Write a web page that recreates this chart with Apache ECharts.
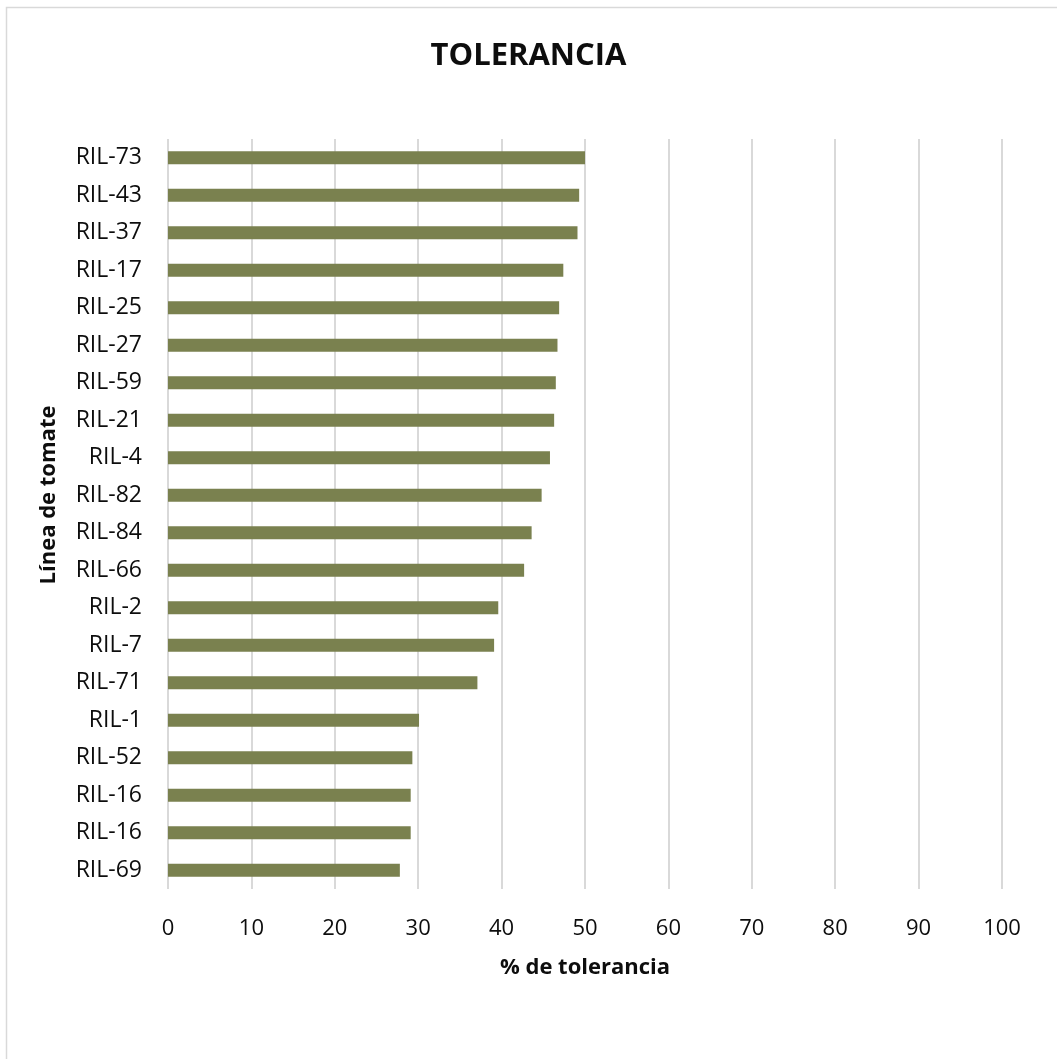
<!DOCTYPE html>
<html>
<head>
<meta charset="utf-8">
<title>TOLERANCIA</title>
<script src="https://cdn.jsdelivr.net/npm/echarts@6/dist/echarts.min.js"></script>
<style>
  html, body { margin: 0; padding: 0; background: #fff; }
  #chart { width: 1057px; height: 1059px; }
</style>
</head>
<body>
<div id="chart"></div>
<script>
// lineas de tomate, de arriba a abajo
var lineas = ['RIL-73', 'RIL-43', 'RIL-37', 'RIL-17', 'RIL-25', 'RIL-27', 'RIL-59', 'RIL-21', 'RIL-4', 'RIL-82',
  'RIL-84', 'RIL-66', 'RIL-2', 'RIL-7', 'RIL-71', 'RIL-1', 'RIL-52', 'RIL-16', 'RIL-16', 'RIL-69'];
// % de tolerancia
var tolerancia = [50.0, 49.3, 49.1, 47.4, 46.9, 46.7, 46.5, 46.3, 45.8, 44.8,
  43.6, 42.7, 39.6, 39.1, 37.1, 30.1, 29.3, 29.1, 29.1, 27.8];

var font = '"Open Sans", sans-serif';
var textColor = '#0d0d0d';
var gridColor = '#d9d9d9';
var barColor = '#7a814f';

var myChart = echarts.init(document.getElementById('chart'));
myChart.setOption({
  backgroundColor: '#fff',
  animation: false,
  title: {
    text: 'TOLERANCIA',
    left: 'center',
    top: 36,
    textStyle: { fontFamily: font, fontSize: 31, fontWeight: 'bold', color: textColor }
  },
  graphic: [{
    // marco gris del area del grafico (solo se ven los bordes superior e izquierdo)
    type: 'polyline',
    shape: { points: [[6.5, 1059], [6.5, 7.5], [1057, 7.5]] },
    style: { stroke: '#d9d9d9', lineWidth: 1.5, fill: null }
  }],
  grid: { left: 168, right: 55, top: 139, bottom: 170 },
  xAxis: {
    type: 'value',
    min: 0,
    max: 100,
    interval: 10,
    name: '% de tolerancia',
    nameLocation: 'middle',
    nameGap: 68,
    nameTextStyle: { fontFamily: font, fontSize: 22, fontWeight: 'bold', color: textColor },
    axisLine: { show: false },
    axisTick: { show: false },
    axisLabel: { margin: 29, fontFamily: font, fontSize: 22, color: textColor },
    splitLine: { show: true, lineStyle: { color: gridColor, width: 2 } }
  },
  yAxis: {
    type: 'category',
    data: lineas,
    inverse: true,
    name: 'Línea de tomate',
    nameLocation: 'middle',
    nameGap: 108,
    nameTextStyle: { fontFamily: font, fontSize: 22, fontWeight: 'bold', color: textColor, padding: [0, 0, 0, 38] },
    axisLine: { show: false },
    axisTick: { show: false },
    axisLabel: { margin: 26, fontFamily: font, fontSize: 23, color: textColor },
    splitLine: { show: false }
  },
  series: [{
    type: 'bar',
    data: tolerancia,
    barWidth: 13,
    itemStyle: { color: barColor }
  }]
});
</script>
</body>
</html>
